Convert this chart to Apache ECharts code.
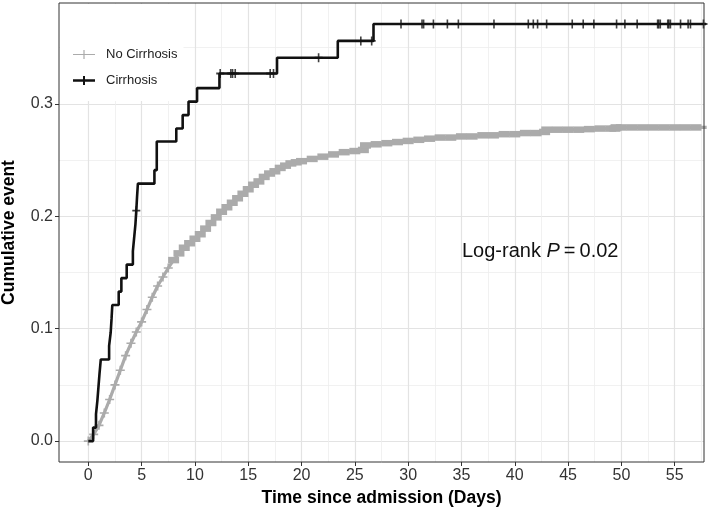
<!DOCTYPE html>
<html><head><meta charset="utf-8">
<script src="https://cdn.jsdelivr.net/npm/echarts@6/dist/echarts.min.js"></script>
<style>html,body{margin:0;padding:0;background:#fff}#c{width:709px;height:515px}</style>
</head><body><div id="c"></div>
<script>
// ---- data ----
const xTicks = [0, 5, 10, 15, 20, 25, 30, 35, 40, 45, 50, 55];
const xMinorTicks = [2.5, 7.5, 12.5, 17.5, 22.5, 27.5, 32.5, 37.5, 42.5, 47.5, 52.5, 57.5];
const yTicks = [0, 0.1, 0.2, 0.3];
const yMinorTicks = [0.05, 0.15, 0.25, 0.35];

const noCirrTime = [0,0.5,1,1.5,2,2.5,3,3.5,4,4.5,5,5.5,6,6.5,7,7.5,8,8.5,9,9.5,10,10.5,11,11.5,12,12.5,13,13.5,14,14.5,15,15.5,16,16.5,17,17.5,18,18.5,19,19.5,20,21,22,23,24,25,25.8,26,27,28,29,30,31,32,33,34,35,36,37,38,39,40,41,42,42.8,43,44,45,46,47,48,49,49.4,49.5,50,51,52,53,54,55,56,57,58];
const noCirrRisk = [0,0.006,0.014,0.025,0.037,0.050,0.063,0.076,0.087,0.097,0.106,0.117,0.128,0.138,0.146,0.154,0.161,0.167,0.172,0.176,0.180,0.184,0.189,0.194,0.199,0.204,0.208,0.212,0.216,0.220,0.224,0.228,0.231,0.235,0.238,0.240,0.243,0.245,0.247,0.248,0.249,0.251,0.253,0.255,0.257,0.258,0.259,0.263,0.264,0.265,0.266,0.267,0.268,0.269,0.270,0.270,0.271,0.271,0.272,0.272,0.273,0.273,0.274,0.274,0.275,0.277,0.277,0.277,0.277,0.2775,0.278,0.278,0.278,0.279,0.279,0.279,0.279,0.279,0.279,0.279,0.279,0.279,0.279];

const cirrTime = [0,0.45,0.72,0.85,0.95,1.05,1.17,1.95,2.1,2.18,2.25,2.85,3.1,3.6,4.18,4.3,4.42,4.5,4.57,4.65,6.2,6.42,8.25,8.85,9.4,10.2,12.3,17.7,23.4,26.75,60];
const cirrRisk = [0,0.012,0.024,0.036,0.048,0.060,0.0726,0.0847,0.0968,0.1089,0.121,0.133,0.145,0.157,0.169,0.181,0.193,0.205,0.217,0.229,0.241,0.2665,0.278,0.290,0.302,0.314,0.327,0.341,0.356,0.371,0.371];
const cirrCensorTime = [4.5,12.37,13.37,13.53,13.78,17.06,17.37,21.6,25.56,26.58,29.33,31.3,31.45,32.37,33.68,34.71,38.05,41.27,41.74,42.14,42.99,45.39,46.42,47.42,49.55,50.33,51.48,53.4,53.5,53.65,54.35,54.45,54.6,55.55,56.26,56.48,57.7];

// ---- build ----
const FONT = "'Liberation Sans', Arial, Helvetica, sans-serif";
const noCirrData = noCirrTime.map((t, i) => [t, noCirrRisk[i]]);
const cirrData = cirrTime.map((t, i) => [t, cirrRisk[i]]);
function stepValue(t) {
  let v = cirrRisk[0];
  for (let i = 0; i < cirrTime.length; i++) { if (cirrTime[i] <= t) v = cirrRisk[i]; }
  return v;
}
const cirrCensorData = cirrCensorTime.map(t => [t, stepValue(t)]);

const plusGray = 'path://M-0.9,-5H0.9V-0.9H5V0.9H0.9V5H-0.9V0.9H-5V-0.9H-0.9Z';
const plusBold = 'path://M-1,-5H1V-1H5V1H1V5H-1V1H-5V-1H-1Z';
const iconGray = 'path://M0,4.4H22V5.6H0Z M10.4,0.5H11.6V9.5H10.4Z';
const iconBlack = 'path://M0,3.7H22V6.3H0Z M10,0.5H12V9.5H10Z';
// dense censoring later on makes the grey curve look like a thick band
const DENSE_FROM = 7.8;

const X_MIN = -2.75, X_MAX = 57.75, Y_MIN = -0.0186, Y_MAX = 0.3897;

const chart = echarts.init(document.getElementById('c'), null, {renderer: 'canvas'});
chart.setOption({
  animation: false,
  backgroundColor: '#fff',
  grid: {left: 59, right: 5, top: 3, bottom: 53, show: true, borderColor: '#333', borderWidth: 1,
    backgroundColor: 'transparent', containLabel: false, outerBoundsMode: 'none', z: 6},
  xAxis: [{
    type: 'value', min: X_MIN, max: X_MAX,
    name: 'Time since admission (Days)', nameLocation: 'middle', nameGap: 26,
    nameTextStyle: {fontFamily: FONT, fontSize: 17.5, fontWeight: 'bold', color: '#000'},
    axisLine: {show: false, onZero: false},
    axisTick: {show: true, length: 4, lineStyle: {color: '#333'}, customValues: xTicks},
    axisLabel: {customValues: xTicks, fontFamily: FONT, fontSize: 16, color: '#333', margin: 6},
    splitLine: {show: true, lineStyle: {color: '#E3E3E3', width: 1.2}}
  }, {
    type: 'value', min: X_MIN, max: X_MAX, position: 'bottom',
    axisLine: {show: false, onZero: false},
    axisTick: {show: false, customValues: xMinorTicks},
    axisLabel: {show: false, customValues: xMinorTicks},
    splitLine: {show: true, lineStyle: {color: '#EDEDED', width: 0.8}}
  }],
  yAxis: [{
    type: 'value', min: Y_MIN, max: Y_MAX,
    name: 'Cumulative event', nameLocation: 'middle', nameGap: 41, nameRotate: 90,
    nameTextStyle: {fontFamily: FONT, fontSize: 17.5, fontWeight: 'bold', color: '#000'},
    axisLine: {show: false, onZero: false},
    axisTick: {show: true, length: 4, lineStyle: {color: '#333'}, customValues: yTicks},
    axisLabel: {customValues: yTicks, fontFamily: FONT, fontSize: 16, color: '#333', margin: 6,
      formatter: v => v.toFixed(1)},
    splitLine: {show: true, lineStyle: {color: '#E3E3E3', width: 1.2}}
  }, {
    type: 'value', min: Y_MIN, max: Y_MAX, position: 'left',
    axisLine: {show: false, onZero: false},
    axisTick: {show: false, customValues: yMinorTicks},
    axisLabel: {show: false, customValues: yMinorTicks},
    splitLine: {show: true, lineStyle: {color: '#EDEDED', width: 0.8}}
  }],
  legend: {
    orient: 'vertical', left: 60, top: 4,
    padding: [44, 6, 14, 13], itemGap: 13, itemWidth: 22, itemHeight: 10,
    backgroundColor: '#fff',
    textStyle: {fontFamily: FONT, fontSize: 13, color: '#222', padding: [0, 0, 0, 6]},
    data: [
      {name: 'No Cirrhosis', icon: iconGray, itemStyle: {color: '#ABABAB'}},
      {name: 'Cirrhosis', icon: iconBlack, itemStyle: {color: '#111'}}
    ]
  },
  graphic: [{
    type: 'text', left: 462, top: 241, z: 10,
    style: {
      text: '{a|Log-rank }{b|P}{a|\u2009=\u20090.02}',
      rich: {
        a: {fontFamily: FONT, fontSize: 20, fill: '#111'},
        b: {fontFamily: FONT, fontSize: 20, fontStyle: 'italic', fill: '#111'}
      }
    }
  }],
  series: [{
    name: 'No Cirrhosis', type: 'line', data: noCirrData,
    xAxisIndex: 0, yAxisIndex: 0, clip: true, z: 3,
    lineStyle: {color: '#ABABAB', width: 3.2},
    itemStyle: {color: '#ABABAB'},
    symbol: v => (v[0] >= DENSE_FROM ? 'rect' : plusGray),
    symbolSize: v => (v[0] >= DENSE_FROM ? [11, 6.5] : [9, 9]),
    showSymbol: true, showAllSymbol: true
  }, {
    name: 'Cirrhosis', type: 'line', step: 'end', data: cirrData,
    xAxisIndex: 0, yAxisIndex: 0, clip: true, z: 4,
    lineStyle: {color: '#111', width: 2.6},
    itemStyle: {color: '#111'},
    showSymbol: false
  }, {
    name: 'Cirrhosis censor', type: 'scatter', data: cirrCensorData,
    xAxisIndex: 0, yAxisIndex: 0, clip: true, z: 5,
    symbol: plusBold, symbolSize: [8, 9],
    itemStyle: {color: '#111'}
  }]
});
</script></body></html>
